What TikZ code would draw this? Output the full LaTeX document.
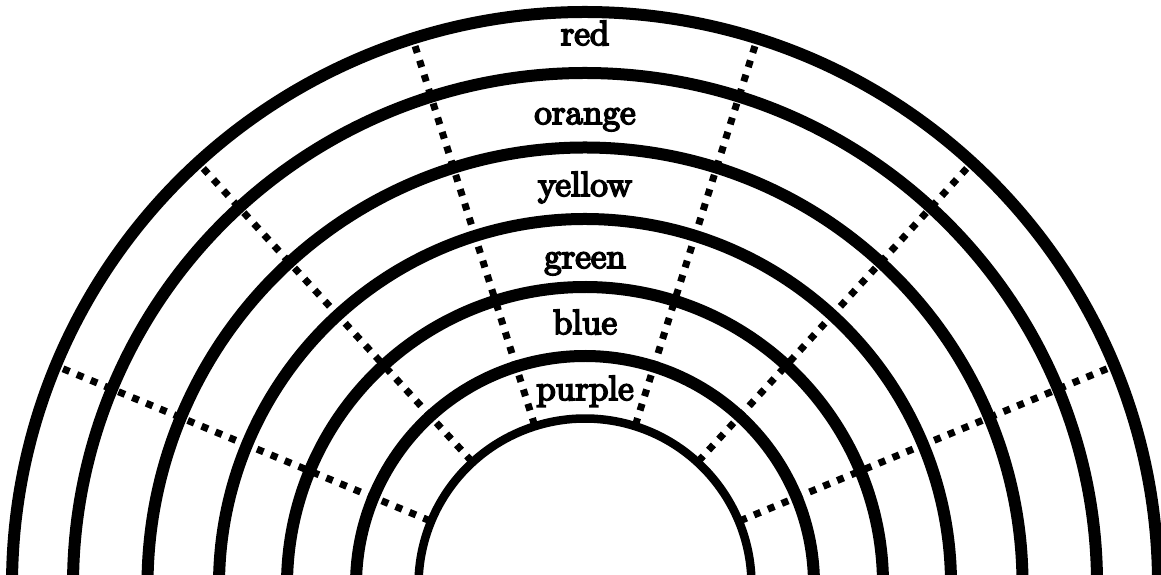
\documentclass[tikz,border=0pt]{standalone}
\usepackage{fontspec}
\newfontfamily\lblfont{lmroman10-regular.otf}[FakeBold=5]
\begin{document}
\begin{tikzpicture}[x=1pt,y=1pt,
  ring/.style={line width=12pt},
  innerring/.style={line width=8.5pt},
  dots/.style={line width=7pt, dash pattern=on 7pt off 8pt, line cap=butt},
  lbl/.style={anchor=base, inner sep=0pt, font=\lblfont\fontsize{35}{42}\selectfont}]
\useasboundingbox (0,0) rectangle (1161,575);
\clip (0,0) rectangle (1161,575);
\coordinate (c) at (585,-10);
% rings
\foreach \r in {573,512,437.5,366,298,229}{
  \draw[ring] ([shift={(-5:\r)}]c) arc[start angle=-5, end angle=185, radius=\r];
}
\draw[innerring] ([shift={(-5:166.5)}]c) arc[start angle=-5, end angle=185, radius=166.5];
% dotted radial lines
\foreach \a in {22.5,47.5,72.5,107.5,132.5,157.5}{
  \draw[dots] ([shift={(\a:168)}]c) -- ([shift={(\a:572)}]c);
}
% labels
\node[lbl] (red) at (585,530) {red};
\node[lbl] (orange) at (585,451) {orange};
\node[lbl] (yellow) at (585,379) {yellow};
\node[lbl] (green) at (585,307) {green};
\node[lbl] (blue) at (585,241) {blue};
\node[lbl] (purple) at (585,175) {purple};
\end{tikzpicture}
\end{document}
